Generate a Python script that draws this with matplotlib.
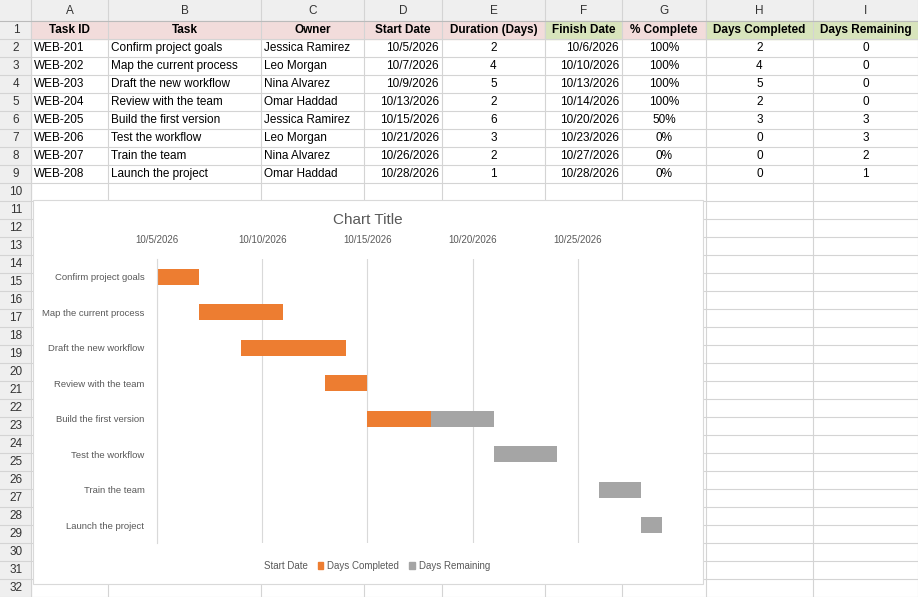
import matplotlib
matplotlib.use("Agg")
import matplotlib.pyplot as plt
import matplotlib.dates as mdates
from matplotlib.patches import Rectangle, Patch
import datetime as dt

plt.rcParams['font.family'] = ['Liberation Sans', 'DejaVu Sans']

task_ids = ["WEB-201","WEB-202","WEB-203","WEB-204","WEB-205","WEB-206","WEB-207","WEB-208"]
tasks = ["Confirm project goals","Map the current process","Draft the new workflow","Review with the team",
         "Build the first version","Test the workflow","Train the team","Launch the project"]
owners = ["Jessica Ramirez","Leo Morgan","Nina Alvarez","Omar Haddad","Jessica Ramirez","Leo Morgan","Nina Alvarez","Omar Haddad"]
start_dates = ["10/5/2026","10/7/2026","10/9/2026","10/13/2026","10/15/2026","10/21/2026","10/26/2026","10/28/2026"]
durations = [2,4,5,2,6,3,2,1]
finish_dates = ["10/6/2026","10/10/2026","10/13/2026","10/14/2026","10/20/2026","10/23/2026","10/27/2026","10/28/2026"]
pct_complete = ["100%","100%","100%","100%","50%","0%","0%","0%"]
days_completed = [2,4,5,2,3,0,0,0]
days_remaining = [0,0,0,0,3,3,2,1]
headers = ["Task ID","Task","Owner","Start Date","Duration (Days)","Finish Date","% Complete","Days Completed","Days Remaining"]
tick_labels = ["10/5/2026","10/10/2026","10/15/2026","10/20/2026","10/25/2026"]

W, H = 918, 597
fig = plt.figure(figsize=(W/100, H/100), dpi=100)
bg = fig.add_axes([0, 0, 1, 1])
bg.set_xlim(0, W); bg.set_ylim(H, 0); bg.axis('off')

colx = [0, 31, 108, 261, 364, 442, 545, 622, 706, 813, 918]
rowh = 18
top = 21
grid = "#d4d4d4"
FS = 8.5
bg.add_patch(Rectangle((0, 0), W, top, color="#efefef", zorder=0))
bg.add_patch(Rectangle((0, 0), 31, H, color="#efefef", zorder=0))
letters = "ABCDEFGHI"
for i, L in enumerate(letters):
    cx = (colx[i+1] + colx[i+2]) / 2
    bg.text(cx, 11, L, ha='center', va='center', fontsize=FS, color="#333333")
for r in range(1, 33):
    y0 = top + (r-1)*rowh
    bg.text(16, y0 + rowh/2, str(r), ha='center', va='center', fontsize=FS, color="#333333")
    bg.plot([0, W], [y0+rowh, y0+rowh], color=grid, lw=0.8, zorder=1)
for x in colx[1:]:
    bg.plot([x, x], [0, H], color=grid, lw=0.8, zorder=1)
bg.plot([0, W], [top, top], color="#bbbbbb", lw=0.8, zorder=1)

pink, green = "#f2dcdb", "#d8e4bc"
hdr_cols = [pink, pink, pink, pink, pink, green, pink, green, green]
for i, h in enumerate(headers):
    x0, x1 = colx[i+1], colx[i+2]
    bg.add_patch(Rectangle((x0, top), x1-x0, rowh, color=hdr_cols[i], zorder=0.5))
    bg.text((x0+x1)/2, top+rowh/2, h, ha='center', va='center', fontsize=FS, fontweight='bold')

for r in range(8):
    yc = top + (r+1)*rowh + rowh/2
    vals = [task_ids[r], tasks[r], owners[r], start_dates[r], str(durations[r]), finish_dates[r],
            pct_complete[r], str(days_completed[r]), str(days_remaining[r])]
    aligns = ['left','left','left','right','center','right','center','center','center']
    for i, v in enumerate(vals):
        x0, x1 = colx[i+1], colx[i+2]
        if aligns[i] == 'left':
            bg.text(x0+3, yc, v, ha='left', va='center', fontsize=FS)
        elif aligns[i] == 'right':
            bg.text(x1-3, yc, v, ha='right', va='center', fontsize=FS)
        else:
            bg.text((x0+x1)/2, yc, v, ha='center', va='center', fontsize=FS)

bg.add_patch(Rectangle((33, 200), 670, 384, facecolor='white', edgecolor='#d9d9d9', lw=0.8, zorder=5))
bg.text(368, 220, "Chart Title", ha='center', va='center', fontsize=11, color='#595959', zorder=6)

ax = fig.add_axes([157/W, 1-543/H, (683-157)/W, (543-259)/H], zorder=3)
ax.patch.set_alpha(0)
starts = [dt.datetime.strptime(s, "%m/%d/%Y") for s in start_dates]
sn = mdates.date2num(starts)
ys = list(range(len(tasks)))
ax.barh(ys, days_completed, left=sn, height=0.45, color="#ed7d31", label="Days Completed")
ax.barh(ys, days_remaining, left=[a+b for a, b in zip(sn, days_completed)], height=0.45,
        color="#a5a5a5", label="Days Remaining")
x0 = mdates.date2num(dt.datetime(2026, 10, 5))
ax.set_xlim(x0, x0+25)
ax.set_ylim(7.5, -0.5)
ticks = [mdates.date2num(dt.datetime.strptime(t, "%m/%d/%Y")) for t in tick_labels]
ax.set_xticks(ticks)
ax.set_xticklabels(tick_labels, fontsize=7, color='#595959')
ax.xaxis.tick_top()
ax.tick_params(axis='x', length=0, pad=10)
ax.set_yticks(ys)
ax.set_yticklabels(tasks, fontsize=6.8, color='#595959')
ax.tick_params(axis='y', length=0, pad=9)
ax.grid(axis='x', color='#d9d9d9', lw=0.8)
ax.set_axisbelow(True)
for s in ax.spines.values():
    s.set_visible(False)
ax.spines['left'].set_visible(True); ax.spines['left'].set_color('#d9d9d9')

handles = [Patch(facecolor='none', edgecolor='none'), Patch(color="#ed7d31"), Patch(color="#a5a5a5")]
leg = fig.legend(handles, ["Start Date", "Days Completed", "Days Remaining"], loc='center',
           bbox_to_anchor=(372/W, 1-566/H), ncol=3, frameon=False, fontsize=7,
           handlelength=0.6, handleheight=0.6, columnspacing=1.0, handletextpad=0.4,
           labelcolor='#595959')
leg.set_zorder(7)

fig.savefig("out.png", dpi=100)
